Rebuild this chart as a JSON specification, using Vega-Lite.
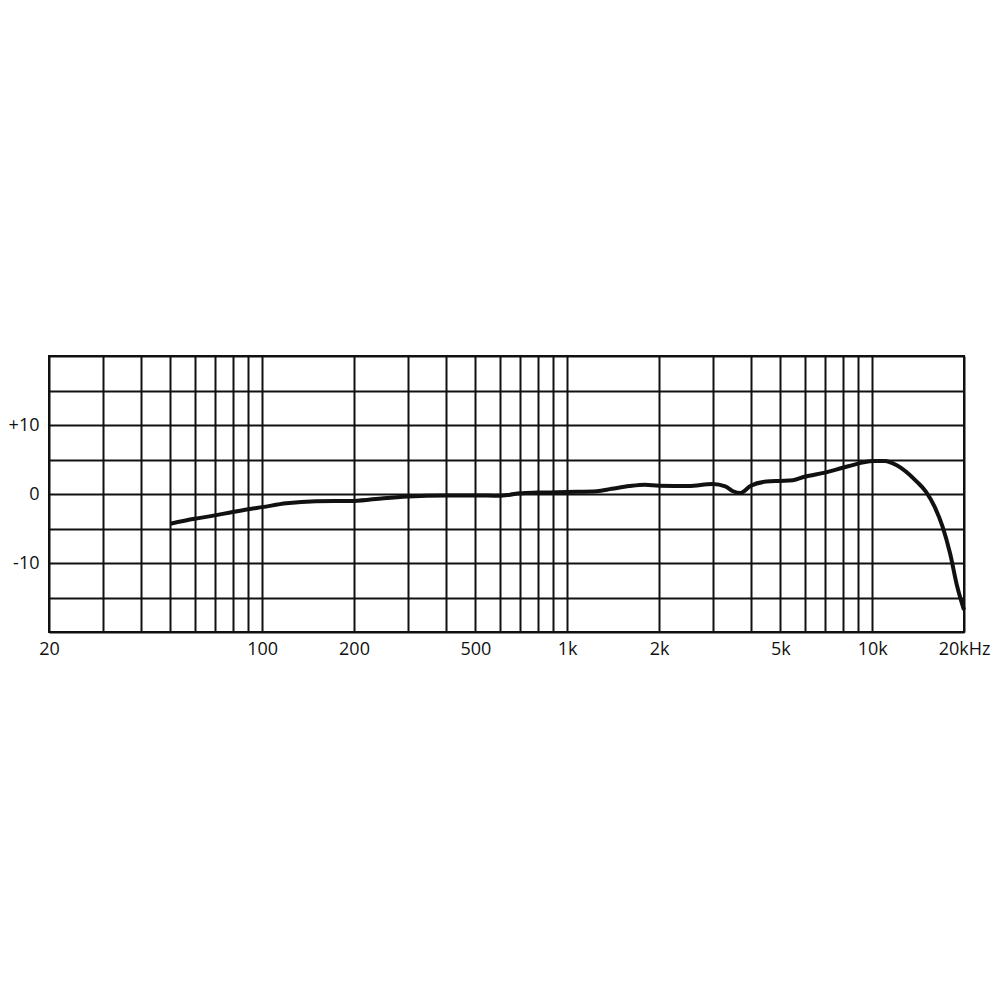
{
  "$schema": "https://vega.github.io/schema/vega-lite/v6.json",
  "autosize": "none",
  "width": 915,
  "height": 276,
  "padding": {"left": 49, "top": 356, "right": 36, "bottom": 368},
  "background": "white",
  "config": {
    "view": {"stroke": "#111111", "strokeWidth": 2},
    "axis": {
      "labelFont": "Open Sans",
      "labelFontSize": 18,
      "labelColor": "#111111",
      "grid": true,
      "gridColor": "#111111",
      "gridWidth": 2,
      "gridOpacity": 1,
      "domain": false,
      "ticks": false,
      "title": null
    }
  },
  "data": {
    "values": [
      {"f": 50, "db": -4.3},
      {"f": 60, "db": -3.6},
      {"f": 70, "db": -3.1},
      {"f": 80, "db": -2.6},
      {"f": 90, "db": -2.2},
      {"f": 100, "db": -1.9},
      {"f": 120, "db": -1.35},
      {"f": 150, "db": -1.05},
      {"f": 200, "db": -1.0},
      {"f": 250, "db": -0.6},
      {"f": 300, "db": -0.35},
      {"f": 400, "db": -0.2},
      {"f": 500, "db": -0.2},
      {"f": 600, "db": -0.25},
      {"f": 650, "db": -0.1},
      {"f": 700, "db": 0.1},
      {"f": 800, "db": 0.2},
      {"f": 1000, "db": 0.3},
      {"f": 1250, "db": 0.4},
      {"f": 1400, "db": 0.75},
      {"f": 1600, "db": 1.15},
      {"f": 1800, "db": 1.35},
      {"f": 2000, "db": 1.2},
      {"f": 2500, "db": 1.15},
      {"f": 3000, "db": 1.45},
      {"f": 3300, "db": 1.1},
      {"f": 3500, "db": 0.4},
      {"f": 3700, "db": 0.15},
      {"f": 4000, "db": 1.2},
      {"f": 4500, "db": 1.8},
      {"f": 5000, "db": 1.9},
      {"f": 5500, "db": 2.0},
      {"f": 6000, "db": 2.5},
      {"f": 7000, "db": 3.1},
      {"f": 8000, "db": 3.8},
      {"f": 9000, "db": 4.4},
      {"f": 10000, "db": 4.8},
      {"f": 11000, "db": 4.8},
      {"f": 12000, "db": 4.2},
      {"f": 14000, "db": 1.8},
      {"f": 15000, "db": 0.35},
      {"f": 16000, "db": -1.8},
      {"f": 17000, "db": -4.7},
      {"f": 18000, "db": -8.6},
      {"f": 19000, "db": -13.4},
      {"f": 20000, "db": -16.8}
    ]
  },
  "mark": {"type": "line", "color": "#111111", "strokeWidth": 4, "interpolate": "monotone"},
  "encoding": {
    "x": {
      "field": "f",
      "type": "quantitative",
      "scale": {"type": "log", "domain": [20, 20000], "nice": false},
      "axis": {
        "values": [20, 30, 40, 50, 60, 70, 80, 90, 100, 200, 300, 400, 500, 600, 700, 800, 900, 1000, 2000, 3000, 4000, 5000, 6000, 7000, 8000, 9000, 10000, 20000],
        "labelExpr": "datum.value == 20 ? '20' : datum.value == 100 ? '100' : datum.value == 200 ? '200' : datum.value == 500 ? '500' : datum.value == 1000 ? '1k' : datum.value == 2000 ? '2k' : datum.value == 5000 ? '5k' : datum.value == 10000 ? '10k' : datum.value == 20000 ? '20kHz' : ''",
        "labelFlush": false,
        "labelOverlap": false,
        "labelBound": false,
        "labelPadding": 8
      }
    },
    "y": {
      "field": "db",
      "type": "quantitative",
      "scale": {"domain": [-20, 20], "nice": false, "zero": false},
      "axis": {
        "values": [-20, -15, -10, -5, 0, 5, 10, 15, 20],
        "labelExpr": "datum.value == 10 ? '+10' : datum.value == 0 ? '0' : datum.value == -10 ? '-10' : ''",
        "labelPadding": 10,
        "labelOverlap": false
      }
    }
  }
}
